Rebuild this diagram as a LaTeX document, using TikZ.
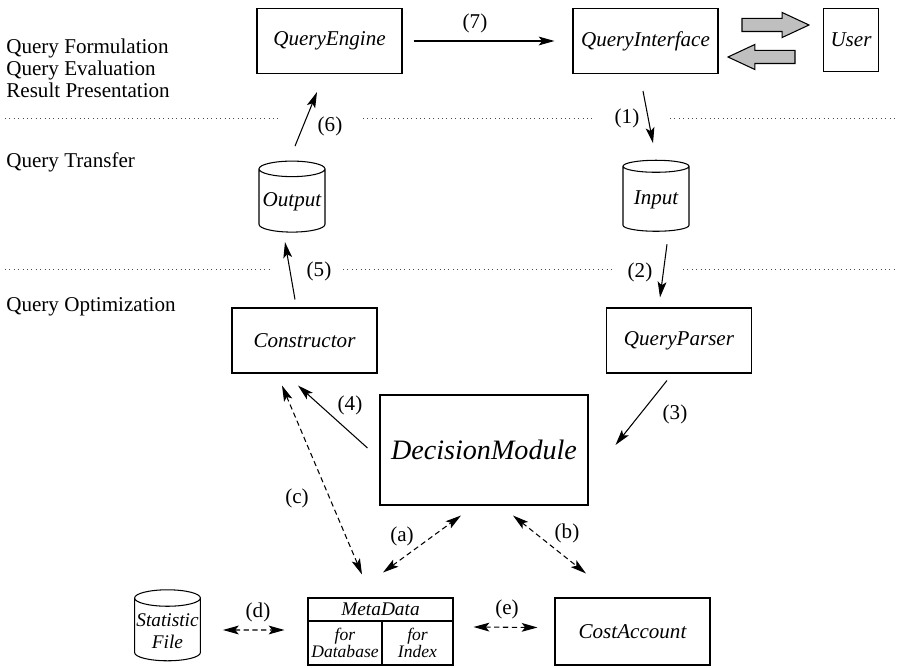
\documentclass[tikz,border=0pt]{standalone}
\usepackage{fontspec}
\setmainfont{Liberation Serif}
\usetikzlibrary{arrows.meta,shapes,calc,positioning}
\tikzset{>={Stealth[length=9pt,width=5pt,inset=2pt]}}
\colorlet{penColor}{black}
\colorlet{arrowFill}{black!25}
\tikzset{
	box/.style={draw=penColor,line width=0.6pt,minimum width=2.9cm,minimum height=1.3cm,inner sep=2pt,font=\fontsize{12}{14}\selectfont\itshape},
	db/.style={draw=penColor,line width=0.6pt,cylinder,shape border rotate=90,aspect=0.25,minimum width=1.32cm,minimum height=1.42cm,inner sep=1pt,align=center,font=\fontsize{12}{14}\selectfont\itshape},
	cell/.style={draw=penColor,line width=0.6pt,inner sep=1pt,align=center,font=\fontsize{10}{10}\selectfont\itshape},
	tag/.style={inner sep=1pt,font=\fontsize{12}{14}\selectfont},
	layer/.style={anchor=west,align=left,inner sep=0pt,font=\fontsize{12}{12.5}\selectfont},
	sep/.style={dotted,line width=0.5pt,black!70},
	flow/.style={->,line width=0.6pt},
	link/.style={<->,line width=0.6pt,dash pattern=on 3pt off 2pt},
	swap/.style={single arrow,draw=penColor,line width=0.6pt,fill=arrowFill,minimum height=1.34cm,inner xsep=0pt,inner ysep=0.12cm,single arrow head extend=0.12cm,single arrow tip angle=50}
}
\begin{document}
\begin{tikzpicture}[x=0.02cm,y=-0.02cm]
	\useasboundingbox (0,0) rectangle (897,668);
	% layers
	\node[layer] (lyrTop) at (6,68) {Query Formulation\\Query Evaluation\\Result Presentation};
	\node[layer] (lyrMid) at (6,162) {Query Transfer};
	\node[layer] (lyrLow) at (6,307) {Query Optimization};
	\draw[sep] (5,118) -- (280,118) (363,118) -- (593,118) (670,118) -- (895,118);
	\draw[sep] (5,269) -- (270,269) (343,269) -- (612,269) (683,269) -- (895,269);
	
	% modules
	\node[box] (engine) at (329.5,41) {QueryEngine};
	\node[box] (interface) at (645.5,41) {QueryInterface};
	\node[box,minimum width=1.1cm,minimum height=1.26cm] (user) at (851,40) {User};
	\node[swap] (toUser) at (768.5,25) {};
	\node[swap,shape border rotate=180] (fromUser) at (768.5,57) {};
	\node[db] (output) at (292,202) {Output};
	\node[db] (input) at (656,200) {Input};
	\node[box] (constructor) at (304.5,340.5) {Constructor};
	\node[box] (parser) at (679,340.5) {QueryParser};
	\node[box,minimum width=4.16cm,minimum height=2.2cm,font=\fontsize{16}{18}\selectfont\itshape] (decision) at (484,450) {DecisionModule};
	\node[db,minimum width=1.3cm,font=\fontsize{11}{12.5}\selectfont\itshape] (stat) at (167.5,631) {Statistic\\File};
	\node[cell,minimum width=2.9cm,minimum height=0.46cm,font=\fontsize{11}{13}\selectfont\itshape] (metaHead) at (380.5,609.5) {MetaData};
	\node[cell,minimum width=1.48cm,minimum height=0.88cm] (metaDb) at (345,643) {for\\Database};
	\node[cell,minimum width=1.42cm,minimum height=0.88cm] (metaIx) at (417.5,643) {for\\Index};
	\node[box,minimum width=3.1cm,minimum height=1.34cm] (cost) at (632.5,631.5) {CostAccount};
	
	% query flow
	\draw[flow] ($(engine.east)+(11,0)$) -- ($(interface.west)+(-18,0)$);
	\draw[flow] ($(interface.south)+(-2.5,17)$) -- ($(input.north)+(-3,-16.5)$);
	\draw[flow] ($(input.south)+(11,12.5)$) -- ($(parser.north)+(-19,-10)$);
	\draw[flow] ($(parser.south)+(-12,7)$) -- ($(decision.east)+(27,-5)$);
	\draw[flow] ($(decision.west)+(-12,-2)$) -- ($(constructor.south)+(-6.5,12)$);
	\draw[flow] ($(constructor.north)+(-9.5,-8)$) -- ($(output.south)+(-7,9.5)$);
	\draw[flow] ($(output.north)+(3,-14.5)$) -- ($(engine.south)+(-12.5,18)$);
	
	% meta data links
	\draw[link] ($(constructor.south)+(-22.5,12)$) -- ($(metaHead.north)+(-18.5,-23)$);
	\draw[link] ($(metaHead.north)+(2.5,-25)$) -- ($(decision.south)+(-23,10)$);
	\draw[link] ($(decision.south)+(29,10)$) -- ($(cost.north)+(-46.5,-24)$);
	\draw[link] ($(stat.east)+(22,-1)$) -- ($(metaDb.west)+(-23,-13)$);
	\draw[link] ($(metaIx.east)+(20,-16)$) -- ($(cost.west)+(-17,-4)$);
	
	% step labels
	\node[tag] (n1) at (627,118) {(1)};
	\node[tag] (n2) at (640,272) {(2)};
	\node[tag] (n3) at (675,414) {(3)};
	\node[tag] (n4) at (350,405) {(4)};
	\node[tag] (n5) at (319,271) {(5)};
	\node[tag] (n6) at (330,126) {(6)};
	\node[tag] (n7) at (475,23) {(7)};
	\node[tag] (na) at (402,536) {(a)};
	\node[tag] (nb) at (567,533) {(b)};
	\node[tag] (nc) at (297,498) {(c)};
	\node[tag] (nd) at (258,612) {(d)};
	\node[tag] (ne) at (507,609) {(e)};
\end{tikzpicture}
\end{document}
